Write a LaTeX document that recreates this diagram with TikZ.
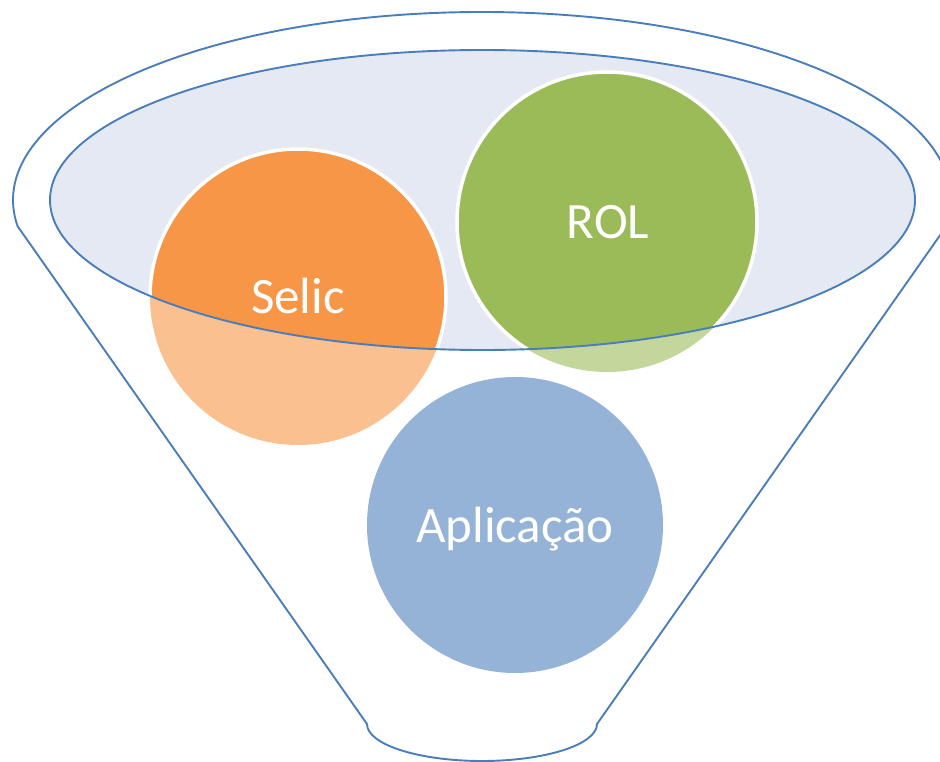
\documentclass[tikz,border=0pt]{standalone}
\usepackage{fontspec}
\setmainfont{Carlito}
\definecolor{funnelblue}{RGB}{74,126,187}
\definecolor{ellfill}{RGB}{228,233,243}
\definecolor{orangeF}{RGB}{247,150,70}
\definecolor{orangeL}{RGB}{250,192,144}
\definecolor{greenF}{RGB}{155,187,89}
\definecolor{greenL}{RGB}{195,214,155}
\definecolor{blueL}{RGB}{149,179,215}
\tikzset{
  outline/.style={draw=funnelblue, line width=1.9pt, line join=round},
  ring/.style={draw=white, line width=3.5pt},
  lbl/.style={text=white, anchor=base, font=\fontsize{51}{60}\selectfont, inner sep=0pt}
}
\begin{document}
\begin{tikzpicture}[x=1pt,y=-1pt]
\useasboundingbox (0,0) rectangle (940,762);
% funnel outline
\draw[outline] (482,200) ++(-8:469pt and 188pt) coordinate (rtop)
  arc[start angle=-8, end angle=188, x radius=469pt, y radius=188pt] coordinate (ltop)
  -- (367,724) coordinate (lbot)
  arc[start angle=180, end angle=360, x radius=115pt, y radius=37pt] coordinate (rbot)
  -- cycle;
% faded circles (outside ellipse)
\fill[orangeL] (298,297) circle[radius=148pt];
\fill[greenL] (607,222) circle[radius=150pt];
\fill[blueL] (515,525) circle[radius=148pt];
% ellipse fill
\fill[ellfill] (482.5,200) ellipse[x radius=432.5pt, y radius=150pt];
% full-colour circles inside ellipse
\begin{scope}
  \clip (482.5,200) ellipse[x radius=432.5pt, y radius=150pt];
  \filldraw[fill=orangeF, ring] (298,297) circle[radius=148pt];
  \filldraw[fill=greenF, ring] (607,222) circle[radius=150pt];
\end{scope}
% ellipse outline
\draw[outline] (482.5,200) ellipse[x radius=432.5pt, y radius=150pt];
% labels
\node[lbl] (selic) at (298,313) {Selic};
\node[lbl] (rol) at (608,239) {ROL};
\node[lbl] (aplic) at (515,542) {Aplicação};
\end{tikzpicture}
\end{document}
